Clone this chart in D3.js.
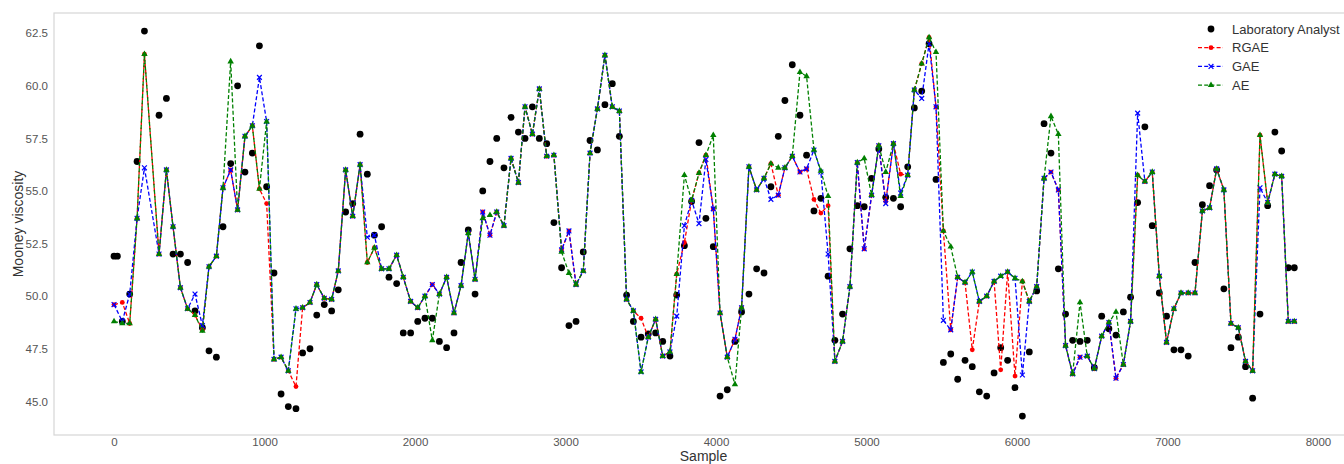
<!DOCTYPE html>
<html>
<head>
<meta charset="utf-8">
<script src="https://cdn.jsdelivr.net/npm/d3@7"></script>
<style>
  body { margin: 0; background: #fff; }
  text { font-family: "Liberation Sans", Arial, sans-serif; }
  .tick text { fill: #555; font-size: 11.5px; }
  .legend-text { fill: #333; font-size: 13px; }
  .axis-label { fill: #333; font-size: 14px; }
</style>
</head>
<body>
<div id="chart"></div>
<script>
var width = 1344;
var height = 464;

// sample positions shared by all series
var sample = [0, 55, 104, 153, 202, 299, 348, 392, 441, 489, 538, 587, 631, 680, 724, 775, 821, 870, 919, 966,
  1014, 1063, 1110, 1158, 1209, 1253, 1302, 1347, 1397, 1446, 1490, 1539, 1586, 1635, 1683, 1730, 1778, 1827, 1878, 1922,
  1971, 2018, 2066, 2115, 2162, 2210, 2259, 2306, 2354, 2399, 2450, 2498, 2543, 2591, 2638, 2687, 2731, 2780, 2826, 2875,
  2923, 2974, 3023, 3070, 3118, 3163, 3212, 3262, 3311, 3358, 3406, 3451, 3502, 3550, 3599, 3646, 3694, 3739, 3790, 3838,
  3887, 3933, 3982, 4027, 4075, 4126, 4170, 4219, 4270, 4319, 4365, 4414, 4458, 4507, 4558, 4602, 4651, 4697, 4745, 4790,
  4841, 4890, 4939, 4985, 5034, 5082, 5128, 5179, 5227, 5274, 5318, 5367, 5416, 5462, 5511, 5560, 5606, 5655, 5703, 5750,
  5799, 5848, 5892, 5938, 5987, 6036, 6082, 6131, 6180, 6226, 6275, 6323, 6370, 6419, 6467, 6514, 6563, 6611, 6658, 6707,
  6755, 6802, 6850, 6899, 6946, 6994, 7043, 7090, 7138, 7183, 7232, 7280, 7327, 7375, 7422, 7471, 7519, 7566, 7615, 7666,
  7714, 7759, 7803, 7843];

var lab = [51.9, 48.8, 50.1, 56.4, 62.6, 58.6, 59.4, 52.0, 52.0, 51.6, 49.3, 48.5, 47.4, 47.1, 53.3, 56.3, 60.0, 55.9, 56.8, 61.9,
  55.2, 51.1, 45.35, 44.75, 44.65, 47.3, 47.5, 49.1, 49.6, 49.3, 50.3, 54.0, 54.4, 57.7, 55.8, 52.9, 53.3, 50.9, 50.6, 48.25,
  48.25, 48.8, 48.95, 48.95, 47.85, 47.55, 48.25, 51.6, 53.15, 50.1, 55.0, 56.4, 57.5, 56.1, 58.5, 57.8, 57.5, 59.0, 57.5, 57.25,
  53.5, 51.35, 48.6, 48.8, 52.1, 57.4, 56.95, 59.1, 60.1, 57.6, 50.05, 48.8, 48.05, 48.2, 48.25, 47.85, 47.15, 50.05, 52.4, 54.5,
  57.3, 53.7, 52.35, 45.25, 45.55, 47.85, 49.25, 50.1, 51.3, 51.1, 55.2, 57.6, 59.3, 61.0, 58.6, 56.7, 54.05, 54.65, 50.95, 47.9,
  49.15, 52.25, 54.3, 54.25, 55.6, 57.0, 54.7, 54.65, 54.25, 56.15, 58.95, 59.75, 62.0, 55.55, 46.85, 47.25, 46.05, 46.95, 46.65, 45.45,
  45.25, 46.35, 47.55, 46.95, 45.65, 44.3, 47.35, 50.25, 58.2, 56.8, 51.3, 49.15, 47.9, 47.85, 47.9, 46.6, 49.05, 48.45, 48.15, 49.25,
  49.95, 54.45, 58.05, 53.35, 50.15, 49.05, 47.45, 47.45, 47.15, 51.6, 54.35, 55.25, 56.0, 50.35, 47.55, 48.05, 46.65, 45.15, 49.15, 54.3,
  57.8, 56.9, 51.35, 51.35];

// a second lab reading right beside the first sample
var labExtraSample = [22];
var labExtraValue = [51.9];

var rgae = [49.6, 49.7, 48.7, 53.7, 61.5, 52.0, 56.0, 53.3, 50.4, 49.4, 49.1, 48.4, 51.4, 51.9, 55.15, 56.0, 54.1, 57.6, 58.1, 55.1,
  54.4, 47.0, 47.1, 46.45, 45.7, 49.45, 49.7, 50.55, 49.9, 49.85, 51.2, 56.0, 53.8, 56.25, 51.6, 52.3, 51.3, 51.3, 51.95, 50.9,
  49.75, 49.45, 50.0, 50.55, 50.1, 50.9, 49.2, 50.5, 53.0, 50.8, 54.0, 52.9, 54.0, 53.35, 56.55, 55.4, 59.0, 57.7, 59.85, 56.65,
  56.7, 52.2, 53.1, 50.55, 51.2, 56.8, 58.9, 61.45, 59.0, 58.8, 49.85, 49.3, 48.95, 48.05, 48.9, 47.15, 47.35, 51.05, 52.55, 54.55,
  55.85, 56.7, 54.15, 49.2, 47.1, 47.95, 49.45, 56.15, 55.05, 55.6, 56.3, 54.8, 56.1, 56.65, 55.9, 56.05, 54.6, 53.95, 54.3, 46.9,
  47.85, 50.45, 56.35, 52.25, 54.8, 57.15, 54.5, 57.25, 55.8, 55.75, 59.8, 61.05, 62.3, 59.0, 53.1, 48.4, 50.9, 50.65, 47.45, 49.75,
  50.0, 50.7, 46.5, 51.15, 46.2, 50.7, 49.75, 50.45, 55.6, 55.9, 55.05, 47.65, 46.3, 47.1, 47.15, 46.55, 48.1, 48.75, 46.1, 46.75,
  48.8, 55.75, 55.45, 55.9, 50.95, 47.8, 49.4, 50.15, 50.15, 50.15, 54.05, 54.2, 56.05, 55.05, 48.7, 48.5, 46.9, 46.45, 57.65, 54.45,
  55.8, 55.7, 48.8, 48.8];

var gae = [49.6, 48.8, 50.1, 53.7, 56.1, 52.0, 56.0, 53.3, 50.4, 49.4, 50.1, 48.6, 51.4, 51.9, 55.15, 56.0, 54.1, 57.6, 58.1, 60.4,
  58.3, 47.0, 47.1, 46.45, 49.4, 49.45, 49.7, 50.55, 49.9, 49.85, 51.2, 56.0, 53.8, 56.25, 52.8, 52.9, 51.3, 51.3, 51.95, 50.9,
  49.75, 49.45, 50.0, 50.55, 50.1, 50.9, 49.2, 50.5, 53.0, 50.8, 54.0, 52.9, 54.0, 53.35, 56.55, 55.4, 59.0, 57.7, 59.85, 56.65,
  56.7, 52.2, 53.1, 50.55, 51.2, 56.8, 58.9, 61.45, 59.0, 58.8, 49.85, 49.3, 46.4, 48.05, 48.9, 47.15, 47.35, 49.05, 53.35, 54.55,
  53.45, 56.5, 54.15, 49.2, 47.1, 47.95, 49.45, 56.15, 55.05, 55.6, 54.6, 54.8, 56.1, 56.65, 55.9, 56.05, 56.95, 55.9, 52.0, 46.9,
  47.85, 50.45, 56.35, 52.25, 54.8, 57.15, 54.4, 57.25, 54.9, 55.75, 59.8, 59.4, 62.0, 59.0, 48.85, 48.4, 50.9, 50.65, 51.15, 49.75,
  50.0, 50.7, 50.95, 51.15, 50.85, 46.25, 49.75, 50.45, 55.6, 55.9, 55.05, 47.65, 46.3, 47.1, 47.15, 46.55, 48.1, 48.75, 46.1, 46.75,
  48.8, 58.7, 55.45, 55.9, 50.95, 47.8, 49.4, 50.15, 50.15, 50.15, 54.05, 54.2, 56.05, 55.05, 48.7, 48.5, 46.9, 46.45, 55.15, 54.45,
  55.8, 55.7, 48.8, 48.8];

var ae = [48.8, 48.7, 48.7, 53.7, 61.5, 52.0, 56.0, 53.3, 50.4, 49.4, 49.1, 48.35, 51.4, 51.9, 55.15, 61.15, 54.1, 57.6, 58.1, 55.1,
  58.3, 47.0, 47.1, 46.45, 49.4, 49.45, 49.7, 50.55, 49.9, 49.85, 51.2, 56.0, 53.8, 56.25, 51.6, 52.3, 51.3, 51.3, 51.95, 50.9,
  49.75, 49.45, 50.0, 47.9, 50.1, 50.9, 49.2, 50.5, 53.0, 50.8, 53.7, 53.85, 54.0, 53.35, 56.55, 55.4, 59.0, 57.7, 59.85, 56.65,
  56.7, 52.1, 51.1, 50.55, 51.2, 56.8, 58.9, 61.45, 59.0, 58.8, 49.85, 49.3, 46.4, 48.05, 48.9, 47.15, 47.35, 51.05, 55.75, 54.55,
  55.85, 56.7, 57.65, 49.2, 47.1, 45.8, 49.45, 56.15, 55.05, 55.6, 56.3, 56.1, 56.1, 56.65, 60.65, 60.45, 56.95, 55.95, 54.75, 46.9,
  47.85, 50.45, 56.35, 56.55, 54.8, 57.15, 55.9, 57.25, 54.75, 55.75, 59.8, 61.05, 62.3, 61.6, 53.1, 52.35, 50.9, 50.65, 51.15, 49.75,
  50.0, 50.7, 50.95, 51.15, 50.85, 50.7, 49.75, 50.45, 55.6, 58.55, 57.7, 47.65, 46.3, 49.7, 47.15, 46.55, 48.1, 48.75, 49.25, 46.75,
  48.8, 55.75, 55.45, 55.9, 50.95, 47.8, 49.4, 50.15, 50.15, 50.15, 54.05, 54.2, 56.05, 55.05, 48.7, 48.5, 46.9, 46.45, 57.65, 54.45,
  55.8, 55.7, 48.8, 48.8];

var xTicks = [0, 1000, 2000, 3000, 4000, 5000, 6000, 7000, 8000];
var yTicks = [45.0, 47.5, 50.0, 52.5, 55.0, 57.5, 60.0, 62.5];
var legendNames = ['Laboratory Analyst', 'RGAE', 'GAE', 'AE'];

// plot box (right side runs past the picture edge)
var boxLeft = 54, boxTop = 13, boxRight = 1353, boxBottom = 435;

var x = d3.scaleLinear().domain([-399, 8233]).range([boxLeft, boxRight]);
var y = d3.scaleLinear().domain([43.40, 63.46]).range([boxBottom, boxTop]);

var svg = d3.select('#chart').append('svg')
  .attr('width', width)
  .attr('height', height);

// frame
svg.append('rect')
  .attr('x', boxLeft).attr('y', boxTop)
  .attr('width', boxRight - boxLeft).attr('height', boxBottom - boxTop)
  .attr('fill', 'none')
  .attr('stroke', '#d6d6d6')
  .attr('stroke-width', 1.2);

// axes (no tick marks)
var gx = svg.append('g')
  .attr('transform', 'translate(0,' + boxBottom + ')')
  .call(d3.axisBottom(x).tickValues(xTicks).tickSize(0).tickPadding(3).tickFormat(d3.format('d')));
gx.select('.domain').remove();

var gy = svg.append('g')
  .attr('transform', 'translate(' + boxLeft + ',0)')
  .call(d3.axisLeft(y).tickValues(yTicks).tickSize(0).tickPadding(6).tickFormat(d3.format('.1f')));
gy.select('.domain').remove();

svg.append('text')
  .attr('class', 'axis-label')
  .attr('x', (boxLeft + boxRight) / 2)
  .attr('y', 461)
  .attr('text-anchor', 'middle')
  .text('Sample');

svg.append('text')
  .attr('class', 'axis-label')
  .attr('transform', 'translate(23,' + ((boxTop + boxBottom) / 2) + ') rotate(-90)')
  .attr('text-anchor', 'middle')
  .text('Mooney viscosity');

var plot = svg.append('g');

// lab dots
var labPts = sample.map(function(s, i) { return [s, lab[i]]; })
  .concat(labExtraSample.map(function(s, i) { return [s, labExtraValue[i]]; }));

plot.selectAll('.lab')
  .data(labPts)
  .enter().append('circle')
    .attr('class', 'lab')
    .attr('cx', function(d) { return x(d[0]); })
    .attr('cy', function(d) { return y(d[1]); })
    .attr('r', 3.4)
    .attr('fill', '#000');

var line = d3.line()
  .x(function(d) { return x(d[0]); })
  .y(function(d) { return y(d[1]); });

var series = [
  { name: 'RGAE', values: rgae, color: '#ff0000', marker: 'circle' },
  { name: 'GAE', values: gae, color: '#0000ff', marker: 'x' },
  { name: 'AE', values: ae, color: '#008000', marker: 'triangle' }
];

function drawMarker(g, type, color) {
  if (type === 'circle') {
    g.append('circle').attr('r', 2.4).attr('fill', color);
  } else if (type === 'x') {
    g.append('path').attr('d', 'M-2.4,-2.4L2.4,2.4M-2.4,2.4L2.4,-2.4')
      .attr('stroke', color).attr('stroke-width', 1.2).attr('fill', 'none');
  } else {
    g.append('path').attr('d', d3.symbol().type(d3.symbolTriangle).size(18)())
      .attr('fill', color);
  }
}

series.forEach(function(s) {
  var pts = sample.map(function(v, i) { return [v, s.values[i]]; });
  plot.append('path')
    .datum(pts)
    .attr('d', line)
    .attr('fill', 'none')
    .attr('stroke', s.color)
    .attr('stroke-width', 1.3)
    .attr('stroke-dasharray', '4,2.2');
  var m = plot.selectAll('.m-' + s.name)
    .data(pts)
    .enter().append('g')
      .attr('transform', function(d) { return 'translate(' + x(d[0]) + ',' + y(d[1]) + ')'; });
  m.each(function() { drawMarker(d3.select(this), s.marker, s.color); });
});

// legend
var legend = svg.append('g').attr('transform', 'translate(1198,29)');
var legendColors = ['#000', '#ff0000', '#0000ff', '#008000'];
var legendMarkers = ['dot', 'circle', 'x', 'triangle'];

legendNames.forEach(function(name, i) {
  var row = legend.append('g').attr('transform', 'translate(0,' + (i * 18.7) + ')');
  if (i === 0) {
    row.append('circle').attr('cx', 13).attr('cy', 0).attr('r', 3.4).attr('fill', '#000');
  } else {
    row.append('line')
      .attr('x1', 0).attr('x2', 25).attr('y1', 0).attr('y2', 0)
      .attr('stroke', legendColors[i]).attr('stroke-width', 1.3)
      .attr('stroke-dasharray', '4,2.2');
    var mg = row.append('g').attr('transform', 'translate(13,0)');
    drawMarker(mg, legendMarkers[i], legendColors[i]);
  }
  row.append('text')
    .attr('class', 'legend-text')
    .attr('x', 34)
    .attr('y', 4.5)
    .text(name);
});
</script>
</body>
</html>
